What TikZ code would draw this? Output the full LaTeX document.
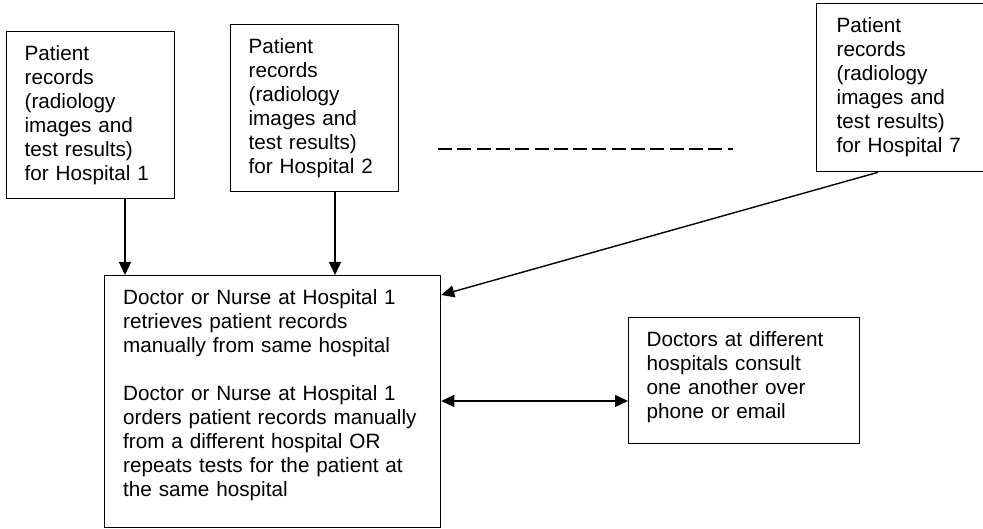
\documentclass[tikz,border=0pt]{standalone}
\usepackage{fontspec}
\setmainfont{Liberation Sans}
\usetikzlibrary{arrows.meta,calc}
\begin{document}
\begin{tikzpicture}[x=1pt,y=-1pt,
  rec/.style={draw, line width=1.3pt, anchor=north west, inner xsep=18pt,
    inner ysep=0pt, align=left, text height=29pt,
    font=\fontsize{20.7}{24}\selectfont},
  tip/.style={Triangle[length=13pt,width=12pt]},
  arr/.style={line width=1.4pt, -{Triangle[length=13pt,width=12pt]}},
  darr/.style={line width=1.4pt,
    {Triangle[length=13pt,width=12pt]}-{Triangle[length=13pt,width=12pt]}}]
\useasboundingbox (0,0) rectangle (983,529);

% record sources
\node[rec, text width=132pt, text depth=138pt] (h1) at (6,31)
  {Patient\\records\\(radiology\\images and\\test results)\\for Hospital 1};
\node[rec, text width=132pt, text depth=138pt] (h2) at (230,24)
  {Patient\\records\\(radiology\\images and\\test results)\\for Hospital 2};
\node[rec, text width=130pt, text depth=139pt, inner xsep=20pt] (h7) at (816,3)
  {Patient\\records\\(radiology\\images and\\test results)\\for Hospital 7};

% hospitals in between
\draw[line width=1.4pt, dash pattern=on 14pt off 5.3pt] (438,149) -- (733,149);

% staff at hospital 1
\node[rec, text width=299pt, inner xsep=18.5pt, text depth=223pt] (staff) at (104,275)
  {Doctor or Nurse at Hospital 1\\retrieves patient records\\manually from same hospital\\[24pt]
   Doctor or Nurse at Hospital 1\\orders patient records manually\\from a different hospital OR\\
   repeats tests for the patient at\\the same hospital};

% consultation
\node[rec, text width=195pt, text depth=97pt] (consult) at (628,317)
  {Doctors at different\\hospitals consult\\one another over\\phone or email};

% connectors
\coordinate (s1) at ($(h1.south west)+(119,0)$);
\coordinate (s2) at ($(h2.south west)+(105,0)$);
\coordinate (s7) at ($(h7.south west)+(62,0)$);
\coordinate (e7) at ($(staff.north east)+(0,20)$);
\coordinate (ec) at ($(staff.north east)+(0,126)$);

\draw[arr] (s1) -- (s1 |- staff.north);
\draw[arr] (s2) -- (s2 |- staff.north);
\draw[arr] (s7) -- (e7);
\draw[darr] (ec) -- (ec -| consult.west);
\end{tikzpicture}
\end{document}
